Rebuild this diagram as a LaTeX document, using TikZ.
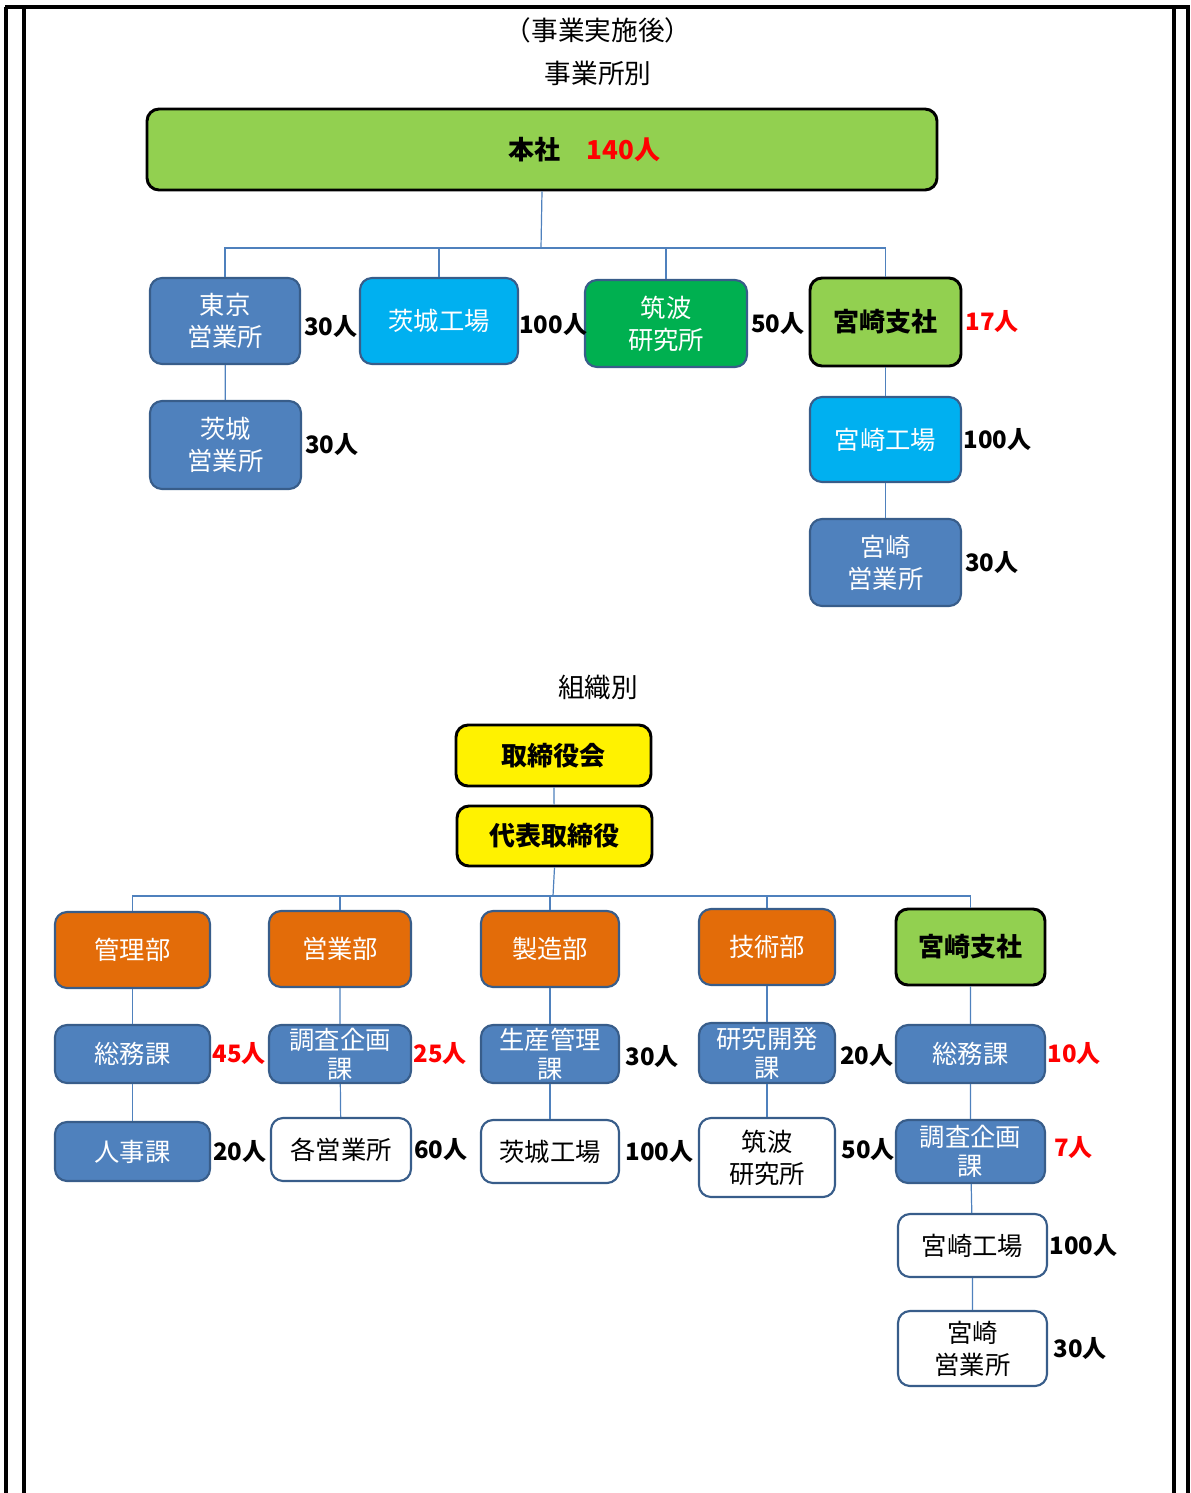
\documentclass[tikz,border=0pt]{standalone}
\usepackage{fontspec}
\setmainfont{Noto Sans CJK JP}
\usepackage{tikz}
\usetikzlibrary{calc}
\definecolor{BoxBlue}{RGB}{79,129,189}
\definecolor{EdgeBlue}{RGB}{56,93,138}
\definecolor{Cyan1}{RGB}{0,176,240}
\definecolor{Green1}{RGB}{0,176,80}
\definecolor{Lime1}{RGB}{146,208,80}
\definecolor{Orange1}{RGB}{227,108,9}
\definecolor{Red1}{RGB}{255,0,0}

\begin{document}
\begin{tikzpicture}[x=0.75pt,y=-0.75pt,
	box/.style={rounded corners=9pt,line width=1.6pt,draw=EdgeBlue,inner sep=0pt,align=center,font=\fontsize{19}{24}\selectfont},
	bluebox/.style={box,fill=BoxBlue,text=white},
	cyanbox/.style={box,fill=Cyan1,text=white},
	greenbox/.style={box,fill=Green1,text=white},
	orangebox/.style={box,fill=Orange1,text=white},
	whitebox/.style={box,fill=white,text=black},
	limebox/.style={box,fill=Lime1,draw=black,line width=2.2pt,font=\bfseries\fontsize{19.5}{24}\selectfont},
	yellowbox/.style={limebox,fill=yellow},
	tight/.style={font=\fontsize{19}{21.5}\selectfont},
	cnt/.style={anchor=west,inner sep=1pt,font=\bfseries\fontsize{18}{18}\selectfont},
	redcnt/.style={cnt,text=Red1},
	title/.style={font=\fontsize{20}{20}\selectfont},
	link/.style={draw=BoxBlue,line width=0.9pt},
	frame/.style={line width=2.3pt}]

\useasboundingbox (0,0) rectangle (1190,1493);

% page frame
\draw[frame] (5,7) -- (1190,7);
\draw[frame] (6,7) -- (6,1493);
\draw[frame] (24,7) -- (24,1493);
\draw[frame] (1174,7) -- (1174,1493);
\draw[frame] (1188,7) -- (1188,1493);

\node[title] (head) at (598,30) {（事業実施後）};
\node[title] (byplace) at (598,73) {事業所別};

% by office
\node[limebox,minimum width=592.5pt,minimum height=60.75pt] (honsha) at (542,149.5)
	{\hspace*{64pt}本社\hspace{1em}\textcolor{Red1}{140人}};
\coordinate (tbus) at (541,248);

\node[bluebox,minimum width=112.5pt,minimum height=64.5pt] (tokyo) at (225,321) {東京\\営業所};
\node[cyanbox,minimum width=118.5pt,minimum height=64.5pt] (ibakojo) at (439,321) {茨城工場};
\node[greenbox,minimum width=121.5pt,minimum height=65.25pt] (tsukuba) at (666,323.5) {筑波\\研究所};
\node[limebox,minimum width=113.25pt,minimum height=66pt] (miyashisha) at (885.5,322) {宮崎支社};
\node[bluebox,minimum width=113.25pt,minimum height=66pt] (ibaeigyo) at (225.5,445) {茨城\\営業所};
\node[cyanbox,minimum width=113.25pt,minimum height=63.75pt] (miyakojo) at (885.5,439.5) {宮崎工場};
\node[bluebox,minimum width=113.25pt,minimum height=65.25pt] (miyaeigyo) at (885.5,562.5) {宮崎\\営業所};

\node[cnt] (tokyoN) at ([xshift=1pt,yshift=-4pt]tokyo.east) {30人};
\node[cnt,inner sep=0pt] (ibakojoN) at ([yshift=-3pt]ibakojo.east) {100人};
\node[cnt] (tsukubaN) at ([xshift=1pt]tsukuba.east) {50人};
\node[redcnt] (miyashishaN) at ([xshift=1pt]miyashisha.east) {17人};
\node[cnt] (ibaeigyoN) at ([xshift=1pt]ibaeigyo.east) {30人};
\node[cnt] (miyakojoN) at ([xshift=0pt]miyakojo.east) {100人};
\node[cnt] (miyaeigyoN) at ([xshift=1pt]miyaeigyo.east) {30人};

\draw[link] (honsha.south) -- (tbus);
\foreach \n in {tokyo,ibakojo,tsukuba,miyashisha}
	\draw[link] (\n.north) |- (tbus);
\draw[link] (tokyo) -- (ibaeigyo);
\draw[link] (miyashisha) -- (miyakojo) -- (miyaeigyo);

% by organisation
\node[title] (byorg) at (598,687) {組織別};

\node[yellowbox,minimum width=146.25pt,minimum height=45.75pt] (board) at (553.5,755.5) {取締役会};
\node[yellowbox,minimum width=146.25pt,minimum height=45pt] (ceo) at (554.5,836) {代表取締役};
\coordinate (bus) at (553,896);

\node[orangebox,minimum width=116.25pt,minimum height=57pt] (kanri) at (132.5,950) {管理部};
\node[orangebox,minimum width=106.5pt,minimum height=57pt] (eigyo) at (340,949) {営業部};
\node[orangebox,minimum width=103.5pt,minimum height=57pt] (seizo) at (550,949) {製造部};
\node[orangebox,minimum width=102pt,minimum height=57pt] (gijutsu) at (767,947) {技術部};
\node[limebox,minimum width=111.75pt,minimum height=57pt] (miyashisha2) at (970.5,947) {宮崎支社};

\node[bluebox,minimum width=116.25pt,minimum height=43.5pt] (soumu) at (132.5,1054) {総務課};
\node[bluebox,tight,minimum width=106.5pt,minimum height=43.5pt] (chousa) at (340,1054) {調査企画\\課};
\node[bluebox,tight,minimum width=103.5pt,minimum height=43.5pt] (seisan) at (550,1054) {生産管理\\課};
\node[bluebox,tight,minimum width=102pt,minimum height=45pt] (kenkyu) at (767,1053) {研究開発\\課};
\node[bluebox,minimum width=111.75pt,minimum height=43.5pt] (soumu2) at (970.5,1054) {総務課};

\node[bluebox,minimum width=116.25pt,minimum height=44.25pt] (jinji) at (132.5,1151.5) {人事課};
\node[whitebox,minimum width=105pt,minimum height=47.25pt] (kakueigyo) at (341,1149.5) {各営業所};
\node[whitebox,minimum width=103.5pt,minimum height=47.25pt] (ibakojo2) at (550,1151.5) {茨城工場};
\node[whitebox,minimum width=102pt,minimum height=59.25pt] (tsukuba2) at (767,1157.5) {筑波\\研究所};
\node[bluebox,tight,minimum width=111.75pt,minimum height=47.25pt] (chousa2) at (970.5,1151.5) {調査企画\\課};
\node[whitebox,minimum width=111.75pt,minimum height=47.25pt] (miyakojo2) at (972.5,1245.5) {宮崎工場};
\node[whitebox,minimum width=111.75pt,minimum height=56.25pt] (miyaeigyo2) at (972.5,1348.5) {宮崎\\営業所};

\node[redcnt] (soumuN) at (soumu.east) {45人};
\node[redcnt] (chousaN) at (chousa.east) {25人};
\node[cnt] (seisanN) at ([xshift=3pt,yshift=-2pt]seisan.east) {30人};
\node[cnt] (kenkyuN) at ([xshift=2pt,yshift=-2pt]kenkyu.east) {20人};
\node[redcnt] (soumu2N) at (soumu2.east) {10人};
\node[cnt] (jinjiN) at ([xshift=0.5pt]jinji.east) {20人};
\node[cnt] (kakueigyoN) at ([xshift=0.5pt]kakueigyo.east) {60人};
\node[cnt] (ibakojo2N) at ([xshift=3pt]ibakojo2.east) {100人};
\node[cnt] (tsukuba2N) at ([xshift=3pt,yshift=6pt]tsukuba2.east) {50人};
\node[redcnt] (chousa2N) at ([xshift=5pt,yshift=3pt]chousa2.east) {7人};
\node[cnt] (miyakojo2N) at (miyakojo2.east) {100人};
\node[cnt] (miyaeigyo2N) at ([xshift=3pt]miyaeigyo2.east) {30人};

\draw[link] (board) -- (ceo);
\draw[link] (ceo.south) -- (bus);
\foreach \n in {kanri,eigyo,seizo,gijutsu,miyashisha2}
	\draw[link] (\n.north) |- (bus);
\draw[link] (kanri) -- (soumu) -- (jinji);
\draw[link] (eigyo) -- (chousa) -- (kakueigyo);
\draw[link] (seizo) -- (seisan) -- (ibakojo2);
\draw[link] (gijutsu) -- (kenkyu) -- (tsukuba2);
\draw[link] (miyashisha2) -- (soumu2) -- (chousa2) -- (miyakojo2) -- (miyaeigyo2);

\end{tikzpicture}
\end{document}
